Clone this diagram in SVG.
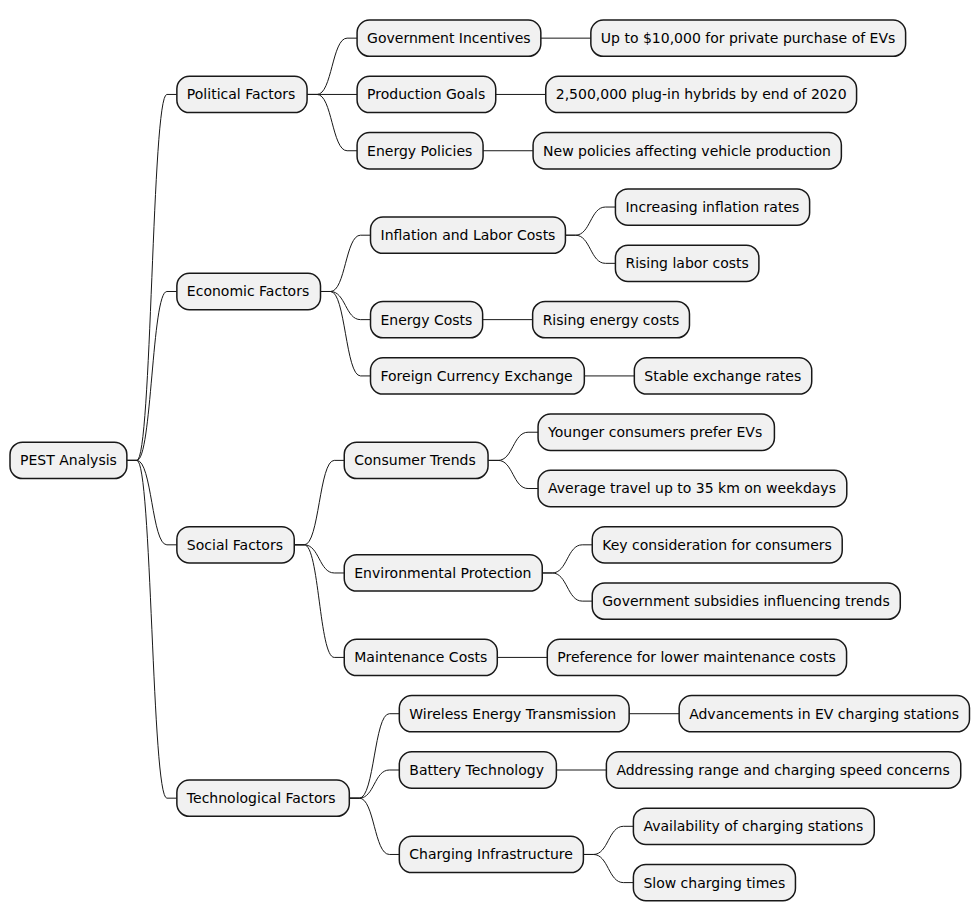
<svg xmlns="http://www.w3.org/2000/svg" width="980" height="921" viewBox="0 0 980 921">
<style>
.n rect{fill:#F1F1F1;stroke:#181818;stroke-width:1.5}
.n text{font-family:"DejaVu Sans","Liberation Sans",sans-serif;font-size:14px;fill:#000}
.c path{fill:none;stroke:#181818;stroke-width:1}
</style>
<rect width="980" height="921" fill="#FFFFFF"/>
<g id="connectors" class="c">
<path d="M126.86,460.38 L136.86,460.38 C151.86,460.38 151.86,94.45 166.86,94.45 L176.86,94.45"/>
<path d="M126.86,460.38 L136.86,460.38 C151.86,460.38 151.86,291.49 166.86,291.49 L176.86,291.49"/>
<path d="M126.86,460.38 L136.86,460.38 C151.86,460.38 151.86,544.82 166.86,544.82 L176.86,544.82"/>
<path d="M126.86,460.38 L136.86,460.38 C151.86,460.38 151.86,798.16 166.86,798.16 L176.86,798.16"/>
<path d="M307.08,94.45 L317.08,94.45 C332.08,94.45 332.08,38.15 347.08,38.15 L357.08,38.15"/>
<path d="M307.08,94.45 L357.08,94.45"/>
<path d="M307.08,94.45 L317.08,94.45 C332.08,94.45 332.08,150.74 347.08,150.74 L357.08,150.74"/>
<path d="M320.51,291.49 L330.51,291.49 C345.51,291.49 345.51,235.19 360.51,235.19 L370.51,235.19"/>
<path d="M320.51,291.49 L330.51,291.49 C345.51,291.49 345.51,319.63 360.51,319.63 L370.51,319.63"/>
<path d="M320.51,291.49 L330.51,291.49 C345.51,291.49 345.51,375.93 360.51,375.93 L370.51,375.93"/>
<path d="M294.25,544.82 L304.25,544.82 C319.25,544.82 319.25,460.38 334.25,460.38 L344.25,460.38"/>
<path d="M294.25,544.82 L304.25,544.82 C319.25,544.82 319.25,572.97 334.25,572.97 L344.25,572.97"/>
<path d="M294.25,544.82 L304.25,544.82 C319.25,544.82 319.25,657.42 334.25,657.42 L344.25,657.42"/>
<path d="M349.31,798.16 L359.31,798.16 C374.31,798.16 374.31,713.71 389.31,713.71 L399.31,713.71"/>
<path d="M349.31,798.16 L359.31,798.16 C374.31,798.16 374.31,770.01 389.31,770.01 L399.31,770.01"/>
<path d="M349.31,798.16 L359.31,798.16 C374.31,798.16 374.31,854.46 389.31,854.46 L399.31,854.46"/>
<path d="M540.84,38.15 L590.84,38.15"/>
<path d="M495.74,94.45 L545.74,94.45"/>
<path d="M483.07,150.74 L533.07,150.74"/>
<path d="M565.42,235.19 L575.42,235.19 C590.42,235.19 590.42,207.04 605.42,207.04 L615.42,207.04"/>
<path d="M565.42,235.19 L575.42,235.19 C590.42,235.19 590.42,263.34 605.42,263.34 L615.42,263.34"/>
<path d="M482.64,319.63 L532.64,319.63"/>
<path d="M584.33,375.93 L634.33,375.93"/>
<path d="M488.06,460.38 L498.06,460.38 C513.06,460.38 513.06,432.23 528.06,432.23 L538.06,432.23"/>
<path d="M488.06,460.38 L498.06,460.38 C513.06,460.38 513.06,488.52 528.06,488.52 L538.06,488.52"/>
<path d="M542.25,572.97 L552.25,572.97 C567.25,572.97 567.25,544.82 582.25,544.82 L592.25,544.82"/>
<path d="M542.25,572.97 L552.25,572.97 C567.25,572.97 567.25,601.12 582.25,601.12 L592.25,601.12"/>
<path d="M497.28,657.42 L547.28,657.42"/>
<path d="M629.16,713.71 L679.16,713.71"/>
<path d="M556.38,770.01 L606.38,770.01"/>
<path d="M583.39,854.46 L593.39,854.46 C608.39,854.46 608.39,826.31 623.39,826.31 L633.39,826.31"/>
<path d="M583.39,854.46 L593.39,854.46 C608.39,854.46 608.39,882.60 623.39,882.60 L633.39,882.60"/>
</g>
<g id="root" class="n"><rect x="10" y="442.23" width="116.86" height="36.3" rx="12.5"/><text x="20" y="465.28">PEST Analysis</text></g>
<g id="political" class="n"><rect x="176.86" y="76.3" width="130.22" height="36.3" rx="12.5"/><text x="186.86" y="99.35">Political Factors</text></g>
<g id="economic" class="n"><rect x="176.86" y="273.34" width="143.65" height="36.3" rx="12.5"/><text x="186.86" y="296.39">Economic Factors</text></g>
<g id="social" class="n"><rect x="176.86" y="526.67" width="117.39" height="36.3" rx="12.5"/><text x="186.86" y="549.72">Social Factors</text></g>
<g id="technological" class="n"><rect x="176.86" y="780.01" width="172.45" height="36.3" rx="12.5"/><text x="186.86" y="803.06">Technological Factors</text></g>
<g id="gov-incentives" class="n"><rect x="357.08" y="20" width="183.76" height="36.3" rx="12.5"/><text x="367.08" y="43.05">Government Incentives</text></g>
<g id="production-goals" class="n"><rect x="357.08" y="76.3" width="138.66" height="36.3" rx="12.5"/><text x="367.08" y="99.35">Production Goals</text></g>
<g id="energy-policies" class="n"><rect x="357.08" y="132.59" width="125.99" height="36.3" rx="12.5"/><text x="367.08" y="155.64">Energy Policies</text></g>
<g id="inflation" class="n"><rect x="370.51" y="217.04" width="194.91" height="36.3" rx="12.5"/><text x="380.51" y="240.09">Inflation and Labor Costs</text></g>
<g id="energy-costs" class="n"><rect x="370.51" y="301.48" width="112.13" height="36.3" rx="12.5"/><text x="380.51" y="324.53">Energy Costs</text></g>
<g id="foreign-currency" class="n"><rect x="370.51" y="357.78" width="213.82" height="36.3" rx="12.5"/><text x="380.51" y="380.83">Foreign Currency Exchange</text></g>
<g id="consumer-trends" class="n"><rect x="344.25" y="442.23" width="143.81" height="36.3" rx="12.5"/><text x="354.25" y="465.28">Consumer Trends</text></g>
<g id="environmental" class="n"><rect x="344.25" y="554.82" width="198" height="36.3" rx="12.5"/><text x="354.25" y="577.87">Environmental Protection</text></g>
<g id="maintenance" class="n"><rect x="344.25" y="639.27" width="153.03" height="36.3" rx="12.5"/><text x="354.25" y="662.32">Maintenance Costs</text></g>
<g id="wireless" class="n"><rect x="399.31" y="695.56" width="229.85" height="36.3" rx="12.5"/><text x="409.31" y="718.61">Wireless Energy Transmission</text></g>
<g id="battery" class="n"><rect x="399.31" y="751.86" width="157.07" height="36.3" rx="12.5"/><text x="409.31" y="774.91">Battery Technology</text></g>
<g id="charging-infra" class="n"><rect x="399.31" y="836.31" width="184.08" height="36.3" rx="12.5"/><text x="409.31" y="859.36">Charging Infrastructure</text></g>
<g id="leaf-0" class="n"><rect x="590.84" y="20" width="314.77" height="36.3" rx="12.5"/><text x="600.84" y="43.05">Up to $10,000 for private purchase of EVs</text></g>
<g id="leaf-1" class="n"><rect x="545.74" y="76.3" width="310.84" height="36.3" rx="12.5"/><text x="555.74" y="99.35">2,500,000 plug-in hybrids by end of 2020</text></g>
<g id="leaf-2" class="n"><rect x="533.07" y="132.59" width="308.29" height="36.3" rx="12.5"/><text x="543.07" y="155.64">New policies affecting vehicle production</text></g>
<g id="leaf-3" class="n"><rect x="615.42" y="188.89" width="194.2" height="36.3" rx="12.5"/><text x="625.42" y="211.94">Increasing inflation rates</text></g>
<g id="leaf-4" class="n"><rect x="615.42" y="245.19" width="143.48" height="36.3" rx="12.5"/><text x="625.42" y="268.24">Rising labor costs</text></g>
<g id="leaf-5" class="n"><rect x="532.64" y="301.48" width="156.83" height="36.3" rx="12.5"/><text x="542.64" y="324.53">Rising energy costs</text></g>
<g id="leaf-6" class="n"><rect x="634.33" y="357.78" width="177.4" height="36.3" rx="12.5"/><text x="644.33" y="380.83">Stable exchange rates</text></g>
<g id="leaf-7" class="n"><rect x="538.06" y="414.08" width="236.35" height="36.3" rx="12.5"/><text x="548.06" y="437.13">Younger consumers prefer EVs</text></g>
<g id="leaf-8" class="n"><rect x="538.06" y="470.37" width="308.72" height="36.3" rx="12.5"/><text x="548.06" y="493.42">Average travel up to 35 km on weekdays</text></g>
<g id="leaf-9" class="n"><rect x="592.25" y="526.67" width="249.96" height="36.3" rx="12.5"/><text x="602.25" y="549.72">Key consideration for consumers</text></g>
<g id="leaf-10" class="n"><rect x="592.25" y="582.97" width="308.03" height="36.3" rx="12.5"/><text x="602.25" y="606.02">Government subsidies influencing trends</text></g>
<g id="leaf-11" class="n"><rect x="547.28" y="639.27" width="299.29" height="36.3" rx="12.5"/><text x="557.28" y="662.32">Preference for lower maintenance costs</text></g>
<g id="leaf-12" class="n"><rect x="679.16" y="695.56" width="290.32" height="36.3" rx="12.5"/><text x="689.16" y="718.61">Advancements in EV charging stations</text></g>
<g id="leaf-13" class="n"><rect x="606.38" y="751.86" width="354.36" height="36.3" rx="12.5"/><text x="616.38" y="774.91">Addressing range and charging speed concerns</text></g>
<g id="leaf-14" class="n"><rect x="633.39" y="808.16" width="240.89" height="36.3" rx="12.5"/><text x="643.39" y="831.21">Availability of charging stations</text></g>
<g id="leaf-15" class="n"><rect x="633.39" y="864.45" width="162.06" height="36.3" rx="12.5"/><text x="643.39" y="887.5">Slow charging times</text></g>
</svg>
